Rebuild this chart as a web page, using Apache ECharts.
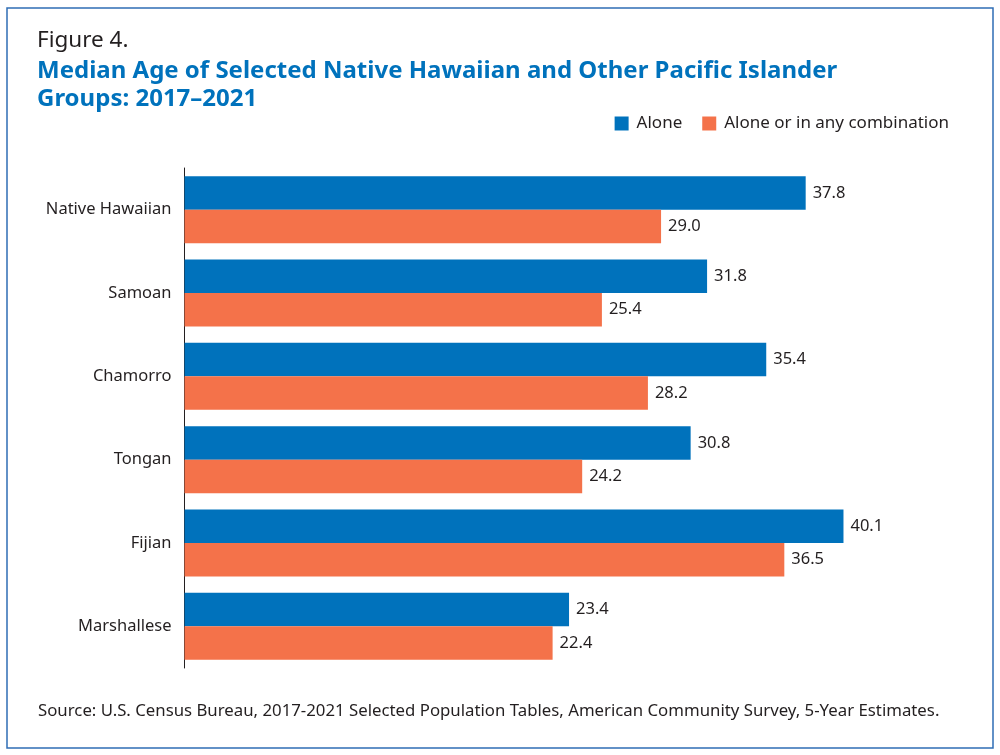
<!DOCTYPE html>
<html>
<head>
<meta charset="utf-8">
<title>Median Age of Selected NHPI Groups</title>
<script src="https://cdn.jsdelivr.net/npm/echarts@6/dist/echarts.min.js"></script>
<style>
  html, body { margin: 0; padding: 0; background: #fff; }
  #chart { width: 1000px; height: 755px; }
</style>
</head>
<body>
<div id="chart"></div>
<script>
const groups = ["Native Hawaiian", "Samoan", "Chamorro", "Tongan", "Fijian", "Marshallese"];
const aloneAges = [37.8, 31.8, 35.4, 30.8, 40.1, 23.4];
const comboAges = [29.0, 25.4, 28.2, 24.2, 36.5, 22.4];
const seriesNames = ["Alone", "Alone or in any combination"];

const FONT = "Noto Sans";
const BLUE = "#0072bc";
const ORANGE = "#f4724a";
const TEXT = "#231f20";

const chart = echarts.init(document.getElementById("chart"), null, { renderer: "canvas" });

const barLabel = {
  show: true,
  position: "right",
  distance: 7,
  color: TEXT,
  fontFamily: FONT,
  fontSize: 16.5,
  formatter: (p) => p.value.toFixed(1)
};

chart.setOption({
  animation: false,
  textStyle: { fontFamily: FONT },
  graphic: [
    {
      type: "rect",
      shape: { x: 7, y: 8, width: 986, height: 740 },
      style: { fill: "none", stroke: "#2f6db5", lineWidth: 1.5 }
    },
    {
      type: "text",
      left: 37,
      top: 29,
      style: { text: "Figure 4.", fill: TEXT, font: `22.5px "${FONT}"` }
    },
    {
      type: "text",
      left: 37,
      top: 57,
      style: {
        text: "Median Age of Selected Native Hawaiian and Other Pacific Islander\nGroups: 2017–2021",
        fill: BLUE,
        font: `bold 24px "${FONT}"`,
        lineHeight: 28
      }
    },
    {
      type: "text",
      left: 38,
      top: 703,
      style: {
        text: "Source: U.S. Census Bureau, 2017-2021 Selected Population Tables, American Community Survey, 5-Year Estimates.",
        fill: TEXT,
        font: `16.8px "${FONT}"`
      }
    }
  ],
  legend: {
    data: seriesNames,
    right: 51,
    top: 115,
    padding: 0,
    itemWidth: 14,
    itemHeight: 14,
    itemGap: 20,
    icon: "rect",
    textStyle: { color: TEXT, fontSize: 17, fontFamily: FONT, padding: [0, 0, 0, 3] }
  },
  grid: { left: 184.5, right: 76, top: 168, bottom: 87, containLabel: false },
  xAxis: {
    type: "value",
    min: 0,
    max: 45,
    show: false,
    splitLine: { show: false }
  },
  yAxis: {
    type: "category",
    data: groups,
    inverse: true,
    axisLine: { show: true, lineStyle: { color: TEXT, width: 1 } },
    axisTick: { show: false },
    axisLabel: { color: TEXT, fontSize: 16.5, fontFamily: FONT, margin: 13 }
  },
  series: [
    {
      name: seriesNames[0],
      type: "bar",
      data: aloneAges,
      barWidth: 33.5,
      barGap: "0%",
      barCategoryGap: "20%",
      itemStyle: { color: BLUE },
      label: barLabel
    },
    {
      name: seriesNames[1],
      type: "bar",
      data: comboAges,
      barWidth: 33.5,
      itemStyle: { color: ORANGE },
      label: barLabel
    }
  ]
});
</script>
</body>
</html>
